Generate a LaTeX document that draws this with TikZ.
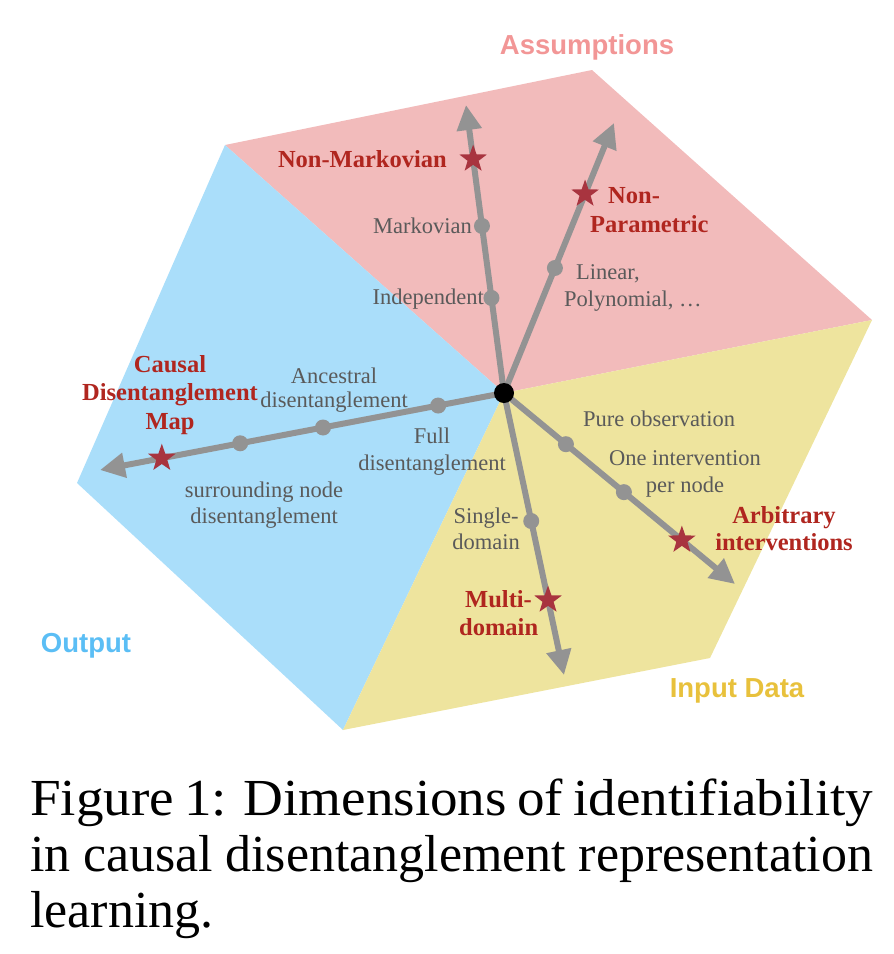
\documentclass[tikz,border=0pt]{standalone}
\usepackage{fontspec}
\setmainfont{Liberation Serif}
\newfontfamily\titlefont{Liberation Sans}
\newfontfamily\capwide[FakeStretch=1.06]{Liberation Serif}
\newfontfamily\capfont{Liberation Serif}
\usetikzlibrary{arrows.meta,shapes.geometric,calc}
\definecolor{pinkfill}{HTML}{F2BBBB}
\definecolor{bluefill}{HTML}{AADEFA}
\definecolor{yellowfill}{HTML}{EEE49E}
\definecolor{axisgray}{HTML}{939393}
\definecolor{labelgray}{HTML}{5A5A5A}
\definecolor{boldred}{HTML}{B0261F}
\definecolor{starred}{HTML}{A8343F}
\definecolor{titlepink}{HTML}{F29696}
\definecolor{titleblue}{HTML}{5BBEF5}
\definecolor{titleyellow}{HTML}{E8C13C}
\tikzset{
  axis/.style={draw=axisgray, line width=6pt, -{Triangle[length=25pt,width=24pt]}},
  dotnode/.style={circle, fill=axisgray, minimum size=16pt, inner sep=0pt},
  starnode/.style={star, star points=5, star point ratio=2.5, fill=starred, minimum size=29pt, inner sep=0pt},
  lbl/.style={text=labelgray, font=\fontsize{22.5}{27}\selectfont, inner sep=0pt},
  redlbl/.style={text=boldred, font=\fontsize{24.5}{29}\selectfont\bfseries, inner sep=0pt},
  ttl/.style={font=\fontsize{27.5}{33}\selectfont\titlefont\bfseries, inner sep=0pt},
  captxt/.style={font=\capfont\fontsize{52}{56}\selectfont, inner sep=0pt, anchor=base west},
  captxtwide/.style={font=\capwide\fontsize{52}{56}\selectfont, inner sep=0pt, anchor=base west}
}
\begin{document}
\begin{tikzpicture}[x=1pt,y=-1pt]
\useasboundingbox (0,0) rectangle (894,954);
% regions
\coordinate (o) at (504,393);
\coordinate (ptl) at (225,145);
\coordinate (ptop) at (592,70);
\coordinate (pr) at (872,320);
\coordinate (pbr) at (710,658);
\coordinate (pb) at (343,730);
\coordinate (pl) at (77,483);
\fill[pinkfill] (o) -- (ptl) -- (ptop) -- (pr) -- cycle;
\fill[bluefill] (o) -- (ptl) -- (pl) -- (pb) -- cycle;
\fill[yellowfill] (o) -- (pr) -- (pbr) -- (pb) -- cycle;
% titles
\node[ttl, text=titlepink, anchor=base] (tA) at (587,54) {Assumptions};
\node[ttl, text=titleblue, anchor=base] (tO) at (86,652) {Output};
\node[ttl, text=titleyellow, anchor=base] (tI) at (737,697) {Input Data};
% axis tips
\coordinate (tup) at (466,105);
\coordinate (tur) at (614,123);
\coordinate (tl) at (100,470);
\coordinate (td) at (564,675);
\coordinate (tdr) at (735,584);
\draw[axis] (o) -- (tup);
\draw[axis] (o) -- (tur);
\draw[axis] (o) -- (tl);
\draw[axis] (o) -- (td);
\draw[axis] (o) -- (tdr);
% dots and stars
\node[dotnode] (dInd) at ($(o)!0.33!(tup)$) {};
\node[dotnode] (dMar) at ($(o)!0.58!(tup)$) {};
\node[starnode] (sNM) at ($(o)!0.8125!(tup)$) {};
\node[dotnode] (dLin) at ($(o)!0.463!(tur)$) {};
\node[starnode] (sNP) at ($(o)!0.737!(tur)$) {};
\node[dotnode] (dFull) at ($(o)!0.163!(tl)$) {};
\node[dotnode] (dAnc) at ($(o)!0.448!(tl)$) {};
\node[dotnode] (dSur) at ($(o)!0.653!(tl)$) {};
\node[starnode] (sCDM) at ($(o)!0.847!(tl)$) {};
\node[dotnode] (dSD) at ($(o)!0.454!(td)$) {};
\node[starnode] (sMD) at ($(o)!0.734!(td)$) {};
\node[dotnode] (dPO) at ($(o)!0.268!(tdr)$) {};
\node[dotnode] (dOI) at ($(o)!0.519!(tdr)$) {};
\node[starnode] (sAI) at ($(o)!0.77!(tdr)$) {};
\node[circle, fill=black, minimum size=20pt, inner sep=0pt] (c) at (o) {};
% labels: assumptions
\node[lbl, anchor=base east] (lMar) at (472,233) {Markovian};
\node[lbl, anchor=base east] (lInd) at (484,304) {Independent};
\node[lbl, anchor=base west] (lLin1) at (576,279) {Linear,};
\node[lbl, anchor=base west] (lLin2) at (564,306) {Polynomial, \ldots};
\node[redlbl, anchor=base east] (lNM) at (447,167) {Non-Markovian};
\node[redlbl, anchor=base west] (lNP1) at (608,203) {Non-};
\node[redlbl, anchor=base west] (lNP2) at (590,232) {Parametric};
% labels: output
\node[redlbl, anchor=base] (lC1) at (170,372) {Causal};
\node[redlbl, anchor=base] (lC2) at (170,400) {Disentanglement};
\node[redlbl, anchor=base] (lC3) at (170,429) {Map};
\node[lbl, anchor=base] (lA1) at (334,383) {Ancestral};
\node[lbl, anchor=base] (lA2) at (334,407) {disentanglement};
\node[lbl, anchor=base] (lF1) at (432,443) {Full};
\node[lbl, anchor=base] (lF2) at (432,470) {disentanglement};
\node[lbl, anchor=base] (lS1) at (264,497) {surrounding node};
\node[lbl, anchor=base] (lS2) at (264,523) {disentanglement};
% labels: input data
\node[lbl, anchor=base west] (lPO) at (583,426) {Pure observation};
\node[lbl, anchor=base] (lOI1) at (685,465) {One intervention};
\node[lbl, anchor=base] (lOI2) at (685,492) {per node};
\node[lbl, anchor=base] (lSD1) at (486,523) {Single-};
\node[lbl, anchor=base] (lSD2) at (486,549) {domain};
\node[redlbl, anchor=base west] (lMD1) at (465,607) {Multi-};
\node[redlbl, anchor=base west] (lMD2) at (459,635) {domain};
\node[redlbl, anchor=base] (lAI1) at (784,523) {Arbitrary};
\node[redlbl, anchor=base] (lAI2) at (784,550) {interventions};
% caption
\node[captxtwide] (cap1) at (30,815) {\makebox[843pt][s]{Figure 1: Dimensions of identifiability}};
\node[captxt] (cap2) at (30,871) {\makebox[843pt][s]{in causal disentanglement representation}};
\node[captxt] (cap3) at (30,927) {learning.};
\end{tikzpicture}
\end{document}
